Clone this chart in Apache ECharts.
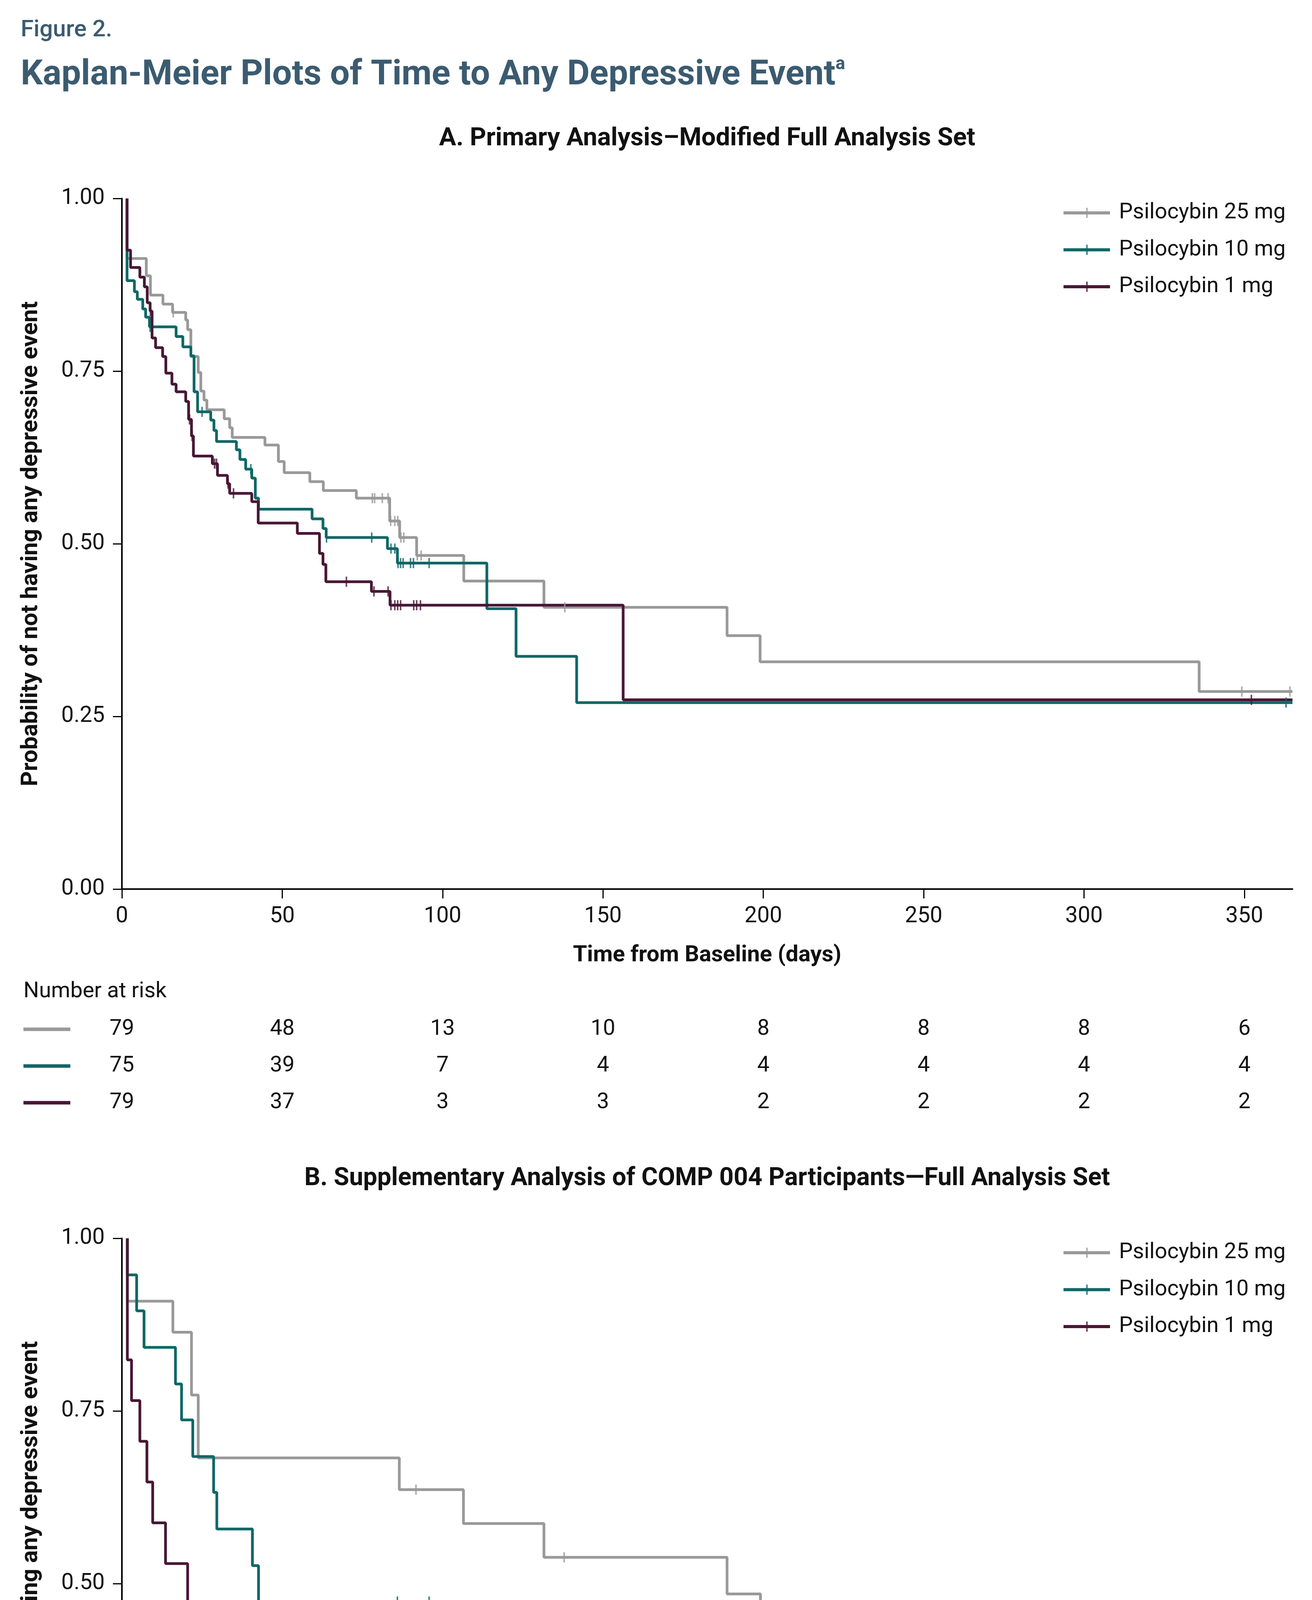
<!DOCTYPE html>
<html>
<head>
<meta charset="utf-8">
<script src="https://cdn.jsdelivr.net/npm/echarts@6/dist/echarts.min.js"></script>
<style>
html,body{margin:0;padding:0;background:#fff;}
#chart{width:3358px;height:5759px;}
</style>
</head>
<body>
<div id="chart"></div>
<script>
// ---------- data ----------
const groups = ['Psilocybin 25 mg', 'Psilocybin 10 mg', 'Psilocybin 1 mg'];
const xTicks = [0, 50, 100, 150, 200, 250, 300, 350];

// Panel A: Kaplan-Meier steps [day, survival after event]
const kmA25 = [[1.6,1.0],[1.6,0.913],[7.6,0.888],[8.9,0.860],[12.8,0.847],[15.8,0.835],[19.9,0.824],[20.5,0.810],[21.5,0.771],[23.8,0.748],[24.6,0.721],[25.6,0.708],[26.5,0.694],[31.9,0.681],[33.6,0.668],[34.4,0.654],[44.6,0.643],[48.8,0.619],[50.6,0.603],[58.6,0.590],[62.8,0.577],[73.1,0.566],[83.5,0.533],[86.6,0.509],[91.9,0.483],[106.6,0.446],[131.6,0.408],[188.7,0.367],[199.0,0.329],[335.9,0.286],[365,0.286]];
const kmA10 = [[1.6,1.0],[1.6,0.881],[3.9,0.865],[4.8,0.854],[6.5,0.840],[7.4,0.828],[8.6,0.814],[16.9,0.800],[19.0,0.785],[21.5,0.772],[22.5,0.720],[23.6,0.691],[27.7,0.679],[28.7,0.664],[29.5,0.648],[35.7,0.636],[36.8,0.622],[38.6,0.608],[40.5,0.595],[41.6,0.566],[42.6,0.550],[59.3,0.536],[62.7,0.522],[63.7,0.509],[82.8,0.493],[85.9,0.472],[113.8,0.406],[122.9,0.337],[141.8,0.270],[365,0.270]];
const kmA1 = [[1.6,1.0],[1.6,0.925],[2.7,0.900],[5.6,0.886],[7.0,0.872],[7.9,0.849],[8.8,0.837],[9.4,0.798],[10.5,0.784],[12.7,0.771],[13.7,0.747],[15.6,0.731],[16.9,0.720],[19.9,0.706],[20.8,0.680],[21.7,0.656],[22.3,0.627],[28.2,0.616],[29.8,0.599],[32.9,0.587],[33.6,0.573],[40.5,0.561],[42.5,0.530],[54.7,0.515],[61.6,0.486],[62.7,0.470],[63.6,0.445],[77.8,0.431],[83.6,0.411],[156.3,0.274],[365,0.274]];
const censA25 = [16.0,78.1,78.8,81.2,83.0,83.8,85.1,86.0,87.0,87.9,92.1,93.3,138.1,349.2,364.2];
const censA10 = [8.8,25.0,40.2,63.8,77.9,83.9,85.1,86.1,86.9,87.7,90.0,90.9,95.8,363.0];
const censA1 = [8.9,21.1,21.9,28.9,29.5,33.1,34.8,70.0,78.6,83.0,83.9,85.1,86.0,86.9,91.0,91.9,93.1,352.2];
const narA25 = [79, 48, 13, 10, 8, 8, 8, 6];
const narA10 = [75, 39, 7, 4, 4, 4, 4, 4];
const narA1 = [79, 37, 3, 3, 2, 2, 2, 2];

// Panel B
const kmB25 = [[1.7,1.0],[1.7,0.909],[15.9,0.864],[21.7,0.773],[23.8,0.682],[86.5,0.636],[106.5,0.587],[131.6,0.538],[188.7,0.485],[199.1,0.432],[335.4,0.378],[365,0.378]];
const kmB10 = [[1.7,1.0],[1.7,0.947],[4.6,0.895],[6.9,0.842],[16.7,0.789],[18.6,0.737],[22.1,0.684],[28.6,0.632],[29.6,0.579],[40.7,0.526],[42.6,0.474],[113.6,0.406],[122.7,0.338],[141.7,0.271],[365,0.271]];
const kmB1 = [[1.7,1.0],[1.7,0.824],[3.0,0.765],[5.6,0.706],[7.8,0.647],[9.6,0.588],[13.6,0.529],[20.5,0.471],[21.7,0.412],[28.0,0.353],[54.7,0.294],[77.8,0.235],[83.0,0.176],[156.3,0.118],[365,0.118]];
const censB25 = [91.7,137.9,348.8,363.9];
const censB10 = [85.9,95.8,363.0];
const censB1 = [351.9];
const narB25 = [22, 15, 13, 10, 8, 8, 8, 6];
const narB10 = [19, 9, 7, 4, 4, 4, 4, 4];
const narB1 = [17, 6, 3, 3, 2, 2, 2, 2];

// ---------- styling ----------
const colors = ['#999999', '#0f6767', '#481735'];
const FONT = 'Roboto, "Noto Sans", sans-serif';
const TXT = '#111111';
const TITLE = '#3b5b70';
const L = 312, W = 2996, PH = 1768;
const topA = 508, topB = 3170;

function survAt(km, t) {
  let s = km[0][1];
  for (const p of km) { if (p[0] <= t) s = p[1]; }
  return s;
}

const legendIcon = 'path://M0,9L119,9L119,17L0,17Z M58.5,0L61.5,0L61.5,26L58.5,26Z';

function plotAxes(gi) {
  const x = {
    gridIndex: gi, type: 'value', min: 0, max: 365, interval: 50,
    axisLine: { show: true, lineStyle: { color: '#000', width: 4 } },
    axisTick: { show: true, customValues: xTicks, length: 24, lineStyle: { color: '#000', width: 3 } },
    axisLabel: { customValues: xTicks, margin: 42, fontSize: 57, color: TXT, fontFamily: FONT },
    splitLine: { show: false },
    name: 'Time from Baseline (days)', nameLocation: 'middle', nameGap: 141,
    nameTextStyle: { fontSize: 58, fontWeight: 'bold', color: TXT, fontFamily: FONT }
  };
  const y = {
    gridIndex: gi, type: 'value', min: 0, max: 1, interval: 0.25,
    axisLine: { show: true, lineStyle: { color: '#000', width: 4 } },
    axisTick: { show: true, length: 23, lineStyle: { color: '#000', width: 3 } },
    axisLabel: { formatter: v => v.toFixed(2), margin: 44, fontSize: 57, color: TXT, fontFamily: FONT },
    splitLine: { show: false },
    name: 'Probability of not having any depressive event', nameLocation: 'middle', nameRotate: 90, nameGap: 202,
    nameTextStyle: { fontSize: 60, fontWeight: 'bold', color: TXT, fontFamily: FONT }
  };
  return [x, y];
}

function riskAxes(gi) {
  const x = { gridIndex: gi, type: 'value', min: 0, max: 365, show: false };
  const y = {
    gridIndex: gi, type: 'category', data: groups, inverse: true,
    axisLine: { show: false }, axisTick: { show: false }, splitLine: { show: false },
    axisLabel: {
      margin: 132,
      formatter: (v, i) => '{b' + i + '| }',
      rich: {
        b0: { width: 120, height: 9, backgroundColor: colors[0] },
        b1: { width: 120, height: 9, backgroundColor: colors[1] },
        b2: { width: 120, height: 9, backgroundColor: colors[2] }
      }
    }
  };
  return [x, y];
}

const [xA, yA] = plotAxes(0);
const [xB, yB] = plotAxes(1);
const [xRA, yRA] = riskAxes(2);
const [xRB, yRB] = riskAxes(3);

const series = [];
function addPanel(axisIdx, kms, cens, tag) {
  kms.forEach((km, i) => {
    series.push({
      type: 'line', name: groups[i], xAxisIndex: axisIdx, yAxisIndex: axisIdx,
      step: 'end', data: km, symbol: 'none', silent: true,
      lineStyle: { color: colors[i], width: 7 }, itemStyle: { color: colors[i] }, z: 2 + i
    });
  });
  cens.forEach((cs, i) => {
    series.push({
      type: 'scatter', name: groups[i] + ' censored ' + tag, xAxisIndex: axisIdx, yAxisIndex: axisIdx,
      data: cs.map(t => [t, survAt(kms[i], t)]), symbol: 'rect', symbolSize: [4, 26], silent: true,
      itemStyle: { color: colors[i] }, z: 5 + i
    });
  });
}
addPanel(0, [kmA25, kmA10, kmA1], [censA25, censA10, censA1], 'A');
addPanel(1, [kmB25, kmB10, kmB1], [censB25, censB10, censB1], 'B');

function addRisk(axisIdx, nars, tag) {
  const data = [];
  nars.forEach((arr, g) => arr.forEach((n, k) => data.push([xTicks[k], g, n])));
  series.push({
    type: 'scatter', name: 'risk ' + tag, xAxisIndex: axisIdx, yAxisIndex: axisIdx,
    data: data, symbol: 'circle', symbolSize: 2, silent: true,
    itemStyle: { color: 'rgba(255,255,255,0)' },
    label: { show: true, position: 'inside', formatter: p => String(p.value[2]),
             fontSize: 56, color: TXT, fontFamily: FONT, opacity: 1 },
    labelLayout: { hideOverlap: false }
  });
}
addRisk(2, [narA25, narA10, narA1], 'A');
addRisk(3, [narB25, narB10, narB1], 'B');

function legendAt(top) {
  return {
    orient: 'vertical', left: 2722, top: top, padding: 0,
    itemWidth: 119, itemHeight: 26, itemGap: 34.5,
    icon: legendIcon, selectedMode: false, data: groups,
    itemStyle: { borderWidth: 0 },
    textStyle: { fontSize: 56, color: TXT, fontFamily: FONT, lineHeight: 60, padding: [0, 0, 0, 18] }
  };
}

function txt(x, y, text, size, weight, color, align, rich) {
  return {
    type: 'text', x: x, y: y, silent: true,
    style: { text: text, fontSize: size, fontWeight: weight, fontFamily: FONT, fill: color,
             align: align || 'left', verticalAlign: 'middle', rich: rich }
  };
}

const supRich = (big, small, color, weight) => ({
  m: { fontSize: big, fontWeight: weight, fontFamily: FONT, color: color, lineHeight: big * 1.15, verticalAlign: 'middle' },
  sup: { fontSize: small, fontWeight: weight, fontFamily: FONT, color: color, lineHeight: small, verticalAlign: 'top' }
});

const option = {
  animation: false,
  backgroundColor: '#ffffff',
  textStyle: { fontFamily: FONT },
  grid: [
    { left: L, top: topA, width: W, height: PH, containLabel: false },
    { left: L, top: topB, width: W, height: PH, containLabel: false },
    { left: L, top: 2588, width: W, height: 282, containLabel: false },
    { left: L, top: 5251, width: W, height: 282, containLabel: false }
  ],
  xAxis: [xA, xB, xRA, xRB],
  yAxis: [yA, yB, yRA, yRB],
  legend: [legendAt(515), legendAt(3177)],
  series: series,
  graphic: [
    txt(53, 78, 'Figure 2.', 60, 500, TITLE),
    txt(53, 194, '{m|Kaplan-Meier Plots of Time to Any Depressive Event}{sup|a}', 89, 'bold', TITLE, 'left', supRich(89, 46, TITLE, 'bold')),
    txt(L + W / 2, 356, 'A. Primary Analysis\u2013Modified Full Analysis Set', 65, 'bold', TXT, 'center'),
    txt(L + W / 2, 3018, 'B. Supplementary Analysis of COMP 004 Participants\u2014Full Analysis Set', 64, 'bold', TXT, 'center'),
    txt(60, 2539, 'Number at risk', 56, 'normal', TXT),
    txt(60, 5202, 'Number at risk', 56, 'normal', TXT),
    txt(47, 5654, '{sup|a}{m|Crosses on the figure represent participants who have been censored.}', 54, 'normal', TXT, 'left', supRich(54, 32, TXT, 'normal')),
    { type: 'line', silent: true, shape: { x1: 47, y1: 5708, x2: 3308, y2: 5708 },
      style: { stroke: '#3d6079', lineWidth: 5 } }
  ]
};

const chart = echarts.init(document.getElementById('chart'), null, { renderer: 'canvas' });
chart.setOption(option);
</script>
</body>
</html>
